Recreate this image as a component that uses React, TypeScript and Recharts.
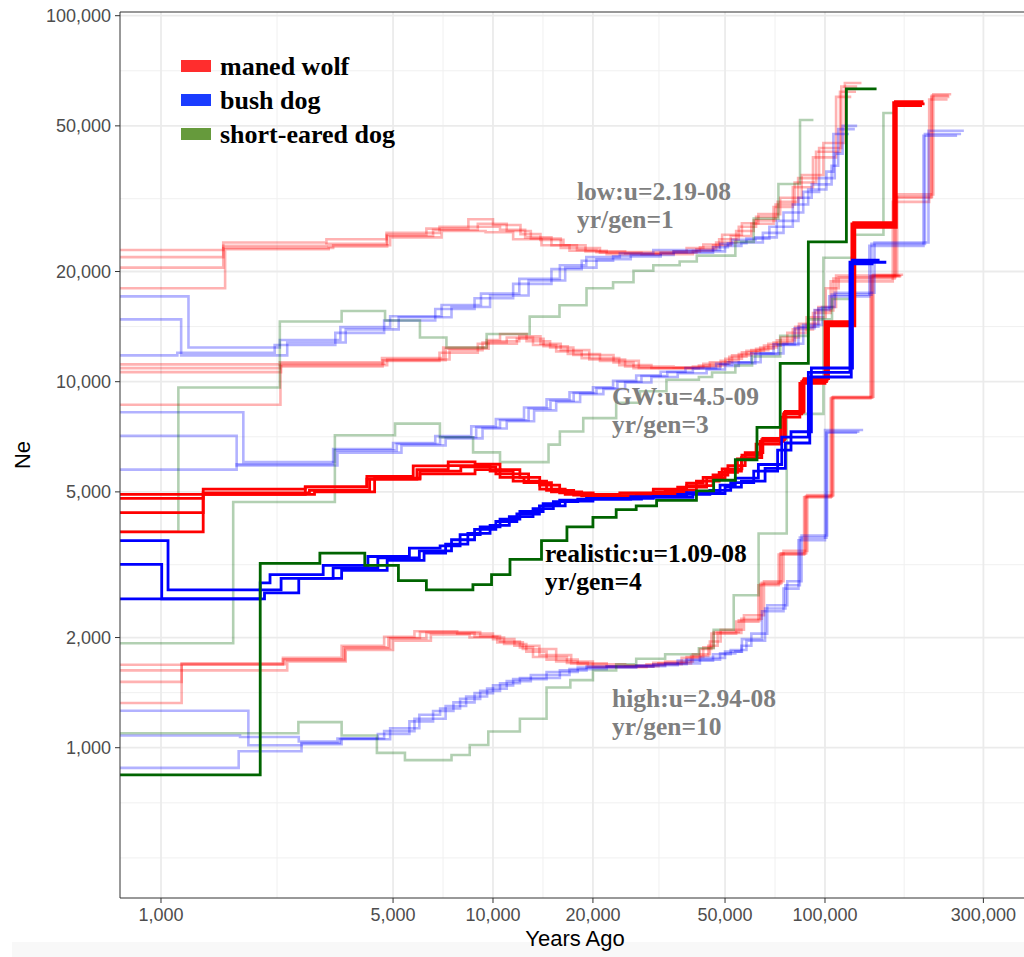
import { LineChart, Line, XAxis, YAxis, ReferenceLine } from "recharts";

type Pt = [number, number];

// [years ago, Ne] — each Ne holds from its year until the next row (PSMC step curves)

// low: u=2.19e-08, 1 yr/gen
const lowMw1: Pt[] = [[752, 22900], [1540, 23500], [3150, 23800], [4780, 25200], [6300, 26200], [8430, 27800], [10000, 26800], [12100, 25300], [13900, 24400], [16300, 23600], [17900, 22900], [20500, 22600], [30400, 22600], [38300, 23200], [43000, 23700], [49000, 25200], [56200, 27100], [63000, 28700], [73300, 31800], [85100, 36700], [98900, 44900], [114800, 65500], [128800, 65500]];
const lowMw2: Pt[] = [[752, 21900], [1540, 24000], [3150, 24500], [4780, 25500], [6900, 26500], [10500, 26000], [12500, 24800], [15000, 23600], [19000, 22700], [25000, 22400], [35000, 22700], [42000, 23300], [48000, 24500], [55000, 26500], [62000, 28200], [72000, 31000], [83000, 36000], [96000, 43500], [112000, 64000], [125000, 64000]];
const lowMw3: Pt[] = [[752, 20500], [1540, 23200], [3300, 23600], [4900, 24800], [7000, 25800], [9500, 25600], [11500, 24500], [14000, 23600], [17000, 22800], [22000, 22300], [32000, 22500], [41000, 23000], [47000, 24000], [54000, 25800], [61000, 27600], [71000, 30500], [81000, 35000], [94000, 42500], [111000, 62000], [124000, 62000]];
const lowMw4: Pt[] = [[752, 18000], [1560, 23000], [3200, 23400], [4800, 25000], [6600, 26000], [9000, 27000], [11000, 25800], [13000, 24600], [16000, 23200], [21000, 22500], [28000, 22300], [40000, 22800], [46000, 23600], [52000, 25000], [60000, 27000], [70000, 30000], [80000, 34000], [92000, 41000], [108000, 60000], [120000, 60000]];
const lowBd1: Pt[] = [[752, 17100], [1210, 12400], [2280, 13000], [3470, 14100], [4900, 15100], [7000, 16200], [9200, 17400], [12000, 19100], [15900, 20800], [19100, 21900], [24100, 22400], [30400, 22900], [48300, 23800], [52500, 24400], [61700, 24800], [71600, 27500], [83200, 31800], [91200, 34600], [104700, 38900], [109600, 49000], [123000, 49000]];
const lowBd2: Pt[] = [[752, 14800], [1150, 11800], [2400, 12800], [3600, 13900], [5200, 15000], [7500, 16000], [9800, 17200], [12800, 18900], [16500, 20500], [20500, 21600], [26000, 22200], [35000, 22700], [50000, 23500], [56000, 24000], [65000, 25500], [75000, 29000], [86000, 33000], [96000, 36000], [107000, 42000], [113000, 50000], [125000, 50000]];
const lowBd3: Pt[] = [[752, 11800], [1120, 12000], [2200, 12600], [3350, 13600], [4700, 14700], [6700, 15800], [8800, 16900], [11500, 18500], [15000, 20300], [18500, 21400], [23000, 22000], [32000, 22500], [46000, 23300], [51000, 23900], [58000, 24600], [68000, 26500], [80000, 30500], [89000, 33500], [101000, 37500], [106000, 47500], [118000, 47500]];
const lowSed: Pt[] = [[752, 3890], [1128, 9640], [2280, 14600], [3500, 15600], [4730, 14700], [6025, 13200], [7240, 12400], [9570, 13500], [12900, 15060], [15860, 16180], [19130, 18000], [23000, 18700], [26500, 20100], [30400, 20800], [36500, 21300], [41100, 22100], [53700, 24100], [61000, 27900], [72400, 34700], [84100, 51900], [92300, 51900]];

// GW: u=4.5e-09, 3 yr/gen
const gwMw1: Pt[] = [[752, 11150], [2280, 11300], [4630, 11600], [7080, 12400], [9570, 13000], [10500, 13500], [12620, 12900], [14860, 12400], [17460, 11830], [23070, 11280], [26500, 10880], [41700, 11070], [50100, 11550], [56200, 12030], [63800, 12400], [71600, 12970], [81300, 14130], [93300, 15660], [106000, 19150], [162000, 31800], [209000, 60000], [237000, 60000]];
const gwMw2: Pt[] = [[752, 10890], [2280, 11100], [4800, 11500], [7400, 12200], [9300, 12800], [11000, 13200], [13200, 12600], [15500, 12100], [18500, 11600], [24000, 11100], [30000, 10900], [43000, 11200], [51500, 11700], [58000, 12150], [65500, 12550], [73500, 13200], [83500, 14400], [95500, 16000], [108000, 19500], [165000, 32500], [212000, 61000], [240000, 61000]];
const gwMw3: Pt[] = [[752, 10620], [2300, 11200], [4700, 11400], [6900, 12000], [9000, 12700], [11800, 13100], [14200, 12500], [16800, 11900], [21000, 11400], [27500, 10900], [40000, 11000], [48500, 11400], [55000, 11900], [62000, 12300], [70000, 12800], [80000, 13900], [92000, 15400], [104000, 18800], [160000, 31000], [206000, 59000], [234000, 59000]];
const gwMw4: Pt[] = [[752, 8650], [2290, 11000], [4650, 11450], [7200, 12300], [9700, 12900], [12000, 13300], [13900, 12700], [16000, 12200], [19500, 11500], [25000, 11000], [35000, 10950], [45000, 11300], [52500, 11800], [60000, 12200], [67500, 12700], [77000, 13600], [88000, 15000], [100500, 18000], [110000, 19300], [163000, 32000], [210000, 60500], [236000, 60500]];
const gwBd1: Pt[] = [[752, 8250], [1770, 6030], [3340, 6490], [5130, 6760], [6930, 7050], [8900, 7500], [10500, 7850], [12800, 8450], [14900, 8870], [17500, 9310], [20500, 9600], [23700, 10000], [28000, 10370], [33500, 10620], [40000, 10850], [48300, 11140], [52500, 11220], [61700, 11890], [72400, 12600], [83200, 14130], [95500, 15880], [104700, 17300], [138000, 23800], [200000, 47500], [257000, 47500]];
const gwBd2: Pt[] = [[752, 7110], [1690, 5900], [3400, 6400], [5300, 6700], [7200, 7000], [9300, 7450], [11000, 7800], [13300, 8350], [15500, 8800], [18300, 9250], [21500, 9550], [25000, 9950], [30000, 10300], [36000, 10550], [44000, 10800], [50000, 11050], [55000, 11300], [64000, 11950], [75000, 12700], [86000, 14300], [98000, 16000], [107000, 17500], [141000, 24000], [205000, 48500], [262000, 48500]];
const gwBd3: Pt[] = [[752, 5750], [1690, 5950], [3300, 6550], [5000, 6800], [6700, 7100], [8600, 7550], [10200, 7900], [12400, 8500], [14500, 8950], [17000, 9350], [20000, 9650], [23000, 10050], [27000, 10400], [32000, 10650], [38000, 10900], [47000, 11200], [51000, 11300], [60000, 11950], [70000, 12650], [81000, 14000], [93000, 15700], [103000, 17100], [136000, 23500], [198000, 47000], [250000, 47000]];
const gwSed: Pt[] = [[752, 1930], [1650, 4690], [3340, 7140], [5070, 7680], [6920, 7050], [8710, 6410], [10500, 6030], [14700, 6730], [15900, 7310], [18700, 7950], [23500, 8760], [27700, 9420], [33300, 10120], [41700, 10300], [45700, 10600], [53700, 11070], [60300, 11720], [73300, 13340], [89000, 14800], [105000, 16830], [123000, 25200], [150000, 54200], [164000, 54200]];

// realistic: u=1.09e-08, 4 yr/gen
const realMw1: Pt[] = [[752, 4920], [2720, 5160], [4170, 5510], [5750, 5890], [7330, 6040], [8830, 5950], [10500, 5750], [12050, 5480], [13830, 5220], [15880, 4970], [20030, 4920], [24100, 4970], [30400, 5090], [38300, 5280], [42950, 5480], [49000, 5780], [56200, 6300], [63800, 6870], [75000, 8170], [85100, 10000], [101000, 14400], [121600, 26700], [162000, 57400], [199500, 57400]];
const realMw2: Pt[] = [[752, 4800], [1340, 4970], [2800, 5050], [4250, 5420], [6025, 5600], [8830, 5750], [10500, 5480], [12400, 5300], [13830, 5090], [16500, 4920], [20030, 4860], [30400, 5000], [38300, 5200], [46000, 5560], [51000, 5900], [57500, 6400], [65000, 7000], [76000, 8300], [86500, 10200], [102500, 14200], [123000, 26400], [164000, 56800], [196000, 56800]];
const realMw3: Pt[] = [[752, 4390], [1340, 5090], [2720, 5160], [4170, 5420], [5900, 5750], [7330, 5900], [9800, 5700], [11500, 5350], [14500, 5050], [17500, 4900], [22000, 4880], [33000, 5050], [41000, 5350], [48000, 5650], [54500, 6150], [62000, 6750], [73500, 8000], [84000, 9900], [100000, 14600], [120500, 27000], [161000, 57900], [192000, 57900]];
const realMw4: Pt[] = [[752, 3890], [1340, 4920], [2900, 5000], [4400, 5450], [6025, 5700], [8000, 5850], [10200, 5600], [12800, 5300], [15000, 5000], [18500, 4880], [27000, 4950], [36000, 5150], [44000, 5450], [50000, 5700], [56000, 6200], [64500, 6950], [75500, 8250], [86000, 10100], [101500, 14500], [122000, 27200], [163000, 58200], [198000, 58200]];
const realBd1: Pt[] = [[752, 3680], [1050, 2700], [1990, 2820], [2130, 2970], [3080, 3150], [4200, 3330], [5600, 3510], [6930, 3560], [7960, 3820], [9150, 4010], [10500, 4210], [12050, 4420], [14160, 4640], [15880, 4750], [19130, 4800], [30400, 4860], [38300, 4975], [48300, 5220], [53700, 5450], [63000, 5940], [74100, 7060], [89100, 10600], [118900, 21200], [153000, 21200]];
const realBd2: Pt[] = [[752, 3170], [1005, 2550], [1990, 2700], [2300, 2900], [3300, 3100], [4500, 3300], [6000, 3450], [7500, 3700], [8800, 3950], [10200, 4150], [11800, 4350], [13800, 4580], [16500, 4720], [20000, 4780], [28000, 4830], [40000, 4950], [50000, 5150], [56000, 5350], [66000, 5800], [76000, 6800], [90000, 10300], [120000, 21000], [140000, 21000]];
const realBd3: Pt[] = [[752, 2550], [2050, 2650], [2600, 2900], [3500, 3050], [4800, 3250], [6200, 3400], [7200, 3600], [8400, 3850], [9800, 4050], [11200, 4280], [13200, 4500], [15200, 4700], [18000, 4780], [26000, 4850], [36000, 4920], [45000, 5050], [52000, 5300], [61000, 5700], [72000, 6500], [79000, 7300], [91000, 10900], [121000, 21500], [146000, 21500]];
const realSed: Pt[] = [[752, 843], [1990, 3190], [3010, 3400], [4110, 3150], [5190, 2860], [6300, 2700], [8700, 2790], [9900, 2970], [11250, 3270], [14000, 3680], [16700, 4010], [20000, 4260], [23500, 4470], [27000, 4580], [31100, 4740], [41000, 5030], [46200, 5380], [53700, 6120], [62400, 7500], [73300, 11220], [89100, 24100], [116000, 63100], [143000, 63100]];

// high: u=2.94e-08, 10 yr/gen
const highMw1: Pt[] = [[752, 1686], [2330, 1745], [3550, 1880], [4840, 1995], [6025, 2070], [9150, 2020], [10500, 1950], [12050, 1880], [13200, 1770], [16700, 1705], [19300, 1666], [30400, 1705], [38300, 1770], [43000, 1880], [46200, 2070], [55000, 2230], [63800, 2800], [73300, 3390], [87100, 4850], [104700, 9040], [138000, 19450], [170000, 19450]];
const highMw2: Pt[] = [[752, 1627], [2400, 1720], [3600, 1850], [5000, 1960], [6500, 2040], [8500, 2000], [10800, 1920], [12600, 1830], [14500, 1740], [18000, 1690], [25000, 1680], [33000, 1720], [40000, 1800], [45000, 1950], [48500, 2100], [57000, 2300], [65500, 2850], [75000, 3450], [88500, 4900], [106000, 9100], [140000, 19600], [172000, 19600]];
const highMw3: Pt[] = [[752, 1513], [1154, 1700], [2330, 1760], [3500, 1900], [4700, 2010], [5800, 2080], [7800, 2050], [10000, 1980], [11600, 1900], [13800, 1790], [17200, 1700], [22000, 1670], [31500, 1700], [39500, 1780], [44500, 1900], [47500, 2060], [56000, 2250], [64500, 2820], [74000, 3400], [87800, 4870], [105300, 9060], [139000, 19500], [168000, 19500]];
const highMw4: Pt[] = [[752, 1325], [1154, 1690], [2360, 1735], [3580, 1870], [4900, 1990], [6300, 2060], [8800, 2010], [10300, 1940], [12300, 1860], [15500, 1720], [20000, 1660], [29000, 1690], [37000, 1760], [42000, 1860], [45500, 2050], [54000, 2210], [63000, 2780], [72500, 3370], [86500, 4830], [104000, 9000], [137000, 19400], [169000, 19400]];
const highBd1: Pt[] = [[752, 1262], [1833, 1016], [2650, 1030], [3460, 1055], [4900, 1130], [6000, 1230], [6930, 1280], [7960, 1360], [9150, 1430], [10500, 1500], [12050, 1550], [15900, 1627], [19130, 1666], [30400, 1690], [38300, 1740], [48300, 1810], [53700, 1830], [56200, 1980], [64600, 2360], [75000, 2720], [83200, 3690], [100000, 7380], [130300, 7380]];
const highBd2: Pt[] = [[752, 1080], [1730, 1070], [2600, 1040], [3400, 1060], [4700, 1110], [5800, 1200], [7200, 1300], [8300, 1380], [9600, 1450], [11000, 1520], [13000, 1580], [17000, 1640], [22000, 1670], [33000, 1700], [42000, 1760], [50000, 1830], [56000, 1900], [60000, 2050], [67000, 2450], [77000, 2850], [85000, 3800], [101500, 7300], [127000, 7300]];
const highBd3: Pt[] = [[752, 881], [1714, 978], [2650, 1023], [3500, 1060], [4500, 1090], [5600, 1180], [6600, 1260], [7600, 1330], [8800, 1410], [10000, 1480], [11500, 1540], [14500, 1610], [18000, 1655], [27000, 1680], [36000, 1730], [46000, 1800], [52000, 1850], [58000, 1960], [66000, 2400], [76000, 2780], [84000, 3750], [101000, 7250], [125000, 7250]];
const highSed: Pt[] = [[752, 1095], [2593, 1175], [3500, 1080], [4470, 968], [5430, 925], [7500, 955], [8510, 1017], [9680, 1107], [12050, 1200], [14500, 1460], [17100, 1530], [20000, 1625], [23500, 1690], [27000, 1750], [33000, 1800], [41700, 1870], [46200, 2100], [53100, 2610], [63100, 3850], [76700, 8170], [98900, 21800], [123000, 21800]];

const X_TICKS = [1000, 5000, 10000, 20000, 50000, 100000, 300000];
const X_MINOR = [2236, 7071, 14142, 31623, 70711, 173205];
const Y_TICKS = [1000, 2000, 5000, 10000, 20000, 50000, 100000];
const Y_MINOR = [500, 707, 1414, 3162, 7071, 14142, 31623, 70711];

const X_DOMAIN: [number, number] = [752.5, 414500];
const Y_DOMAIN: [number, number] = [388.5, 102350];

const RED = "#FF0000";
const BLUE = "#0000FF";
const GREEN = "#006400";
const FADE = 0.3;

const LEGEND = [
  { label: "maned wolf", color: "#FF2D2D" },
  { label: "bush dog", color: "#1A3CFF" },
  { label: "short-eared dog", color: "#669A3C" },
];

const NOTES = [
  { lines: ["low:u=2.19-08", "yr/gen=1"], x: 577, y: 200, color: "#7F7F7F" },
  { lines: ["GW:u=4.5-09", "yr/gen=3"], x: 612, y: 405, color: "#7F7F7F" },
  { lines: ["realistic:u=1.09-08", "yr/gen=4"], x: 545, y: 562, color: "#000000" },
  { lines: ["high:u=2.94-08", "yr/gen=10"], x: 612, y: 707, color: "#7F7F7F" },
];

const faded = [
  ...[lowMw1, lowMw2, lowMw3, lowMw4, gwMw1, gwMw2, gwMw3, gwMw4, highMw1, highMw2, highMw3, highMw4].map((d) => ({ d, c: RED })),
  ...[lowBd1, lowBd2, lowBd3, gwBd1, gwBd2, gwBd3, highBd1, highBd2, highBd3].map((d) => ({ d, c: BLUE })),
  ...[lowSed, gwSed, highSed].map((d) => ({ d, c: GREEN })),
];
const bold = [
  ...[realMw1, realMw2, realMw3, realMw4].map((d) => ({ d, c: RED })),
  ...[realBd1, realBd2, realBd3].map((d) => ({ d, c: BLUE })),
  { d: realSed, c: GREEN },
];

const rows = (pts: Pt[]) => pts.map(([x, y]) => ({ x, y }));
const fmt = (v: number) => v.toLocaleString("en-US");

const SERIF = "'Liberation Serif', 'Times New Roman', serif";
const SANS = "'Liberation Sans', Arial, Helvetica, sans-serif";

export default function App() {
  return (
    <div style={{ position: "fixed", left: 0, top: 0, width: 1024, height: 957, overflow: "hidden", background: "#fff" }}>
      <div style={{ position: "absolute", left: 12, top: 942, width: 1012, height: 15, background: "#F8F8F8" }} />
      <div style={{ position: "absolute", left: 0, top: 0 }}>
        <LineChart width={1040} height={957} margin={{ top: 12, right: 10, bottom: 0, left: 0 }}>
          <XAxis
            type="number"
            dataKey="x"
            scale="log"
            domain={X_DOMAIN}
            allowDataOverflow
            ticks={X_TICKS}
            tickFormatter={fmt}
            height={59}
            tickSize={5}
            tickMargin={5}
            stroke="#333333"
            tick={{ fill: "#4D4D4D", fontSize: 18, fontFamily: SANS }}
          />
          <YAxis
            type="number"
            scale="log"
            domain={Y_DOMAIN}
            allowDataOverflow
            ticks={Y_TICKS}
            tickFormatter={fmt}
            width={120}
            tickSize={5}
            tickMargin={4}
            stroke="#333333"
            tick={{ fill: "#4D4D4D", fontSize: 18, fontFamily: SANS }}
          />
          {X_MINOR.map((v) => (
            <ReferenceLine key={"xm" + v} x={v} stroke="#F0F0F0" strokeWidth={1} />
          ))}
          {Y_MINOR.map((v) => (
            <ReferenceLine key={"ym" + v} y={v} stroke="#F0F0F0" strokeWidth={1} />
          ))}
          {X_TICKS.map((v) => (
            <ReferenceLine key={"xM" + v} x={v} stroke="#EBEBEB" strokeWidth={1.8} />
          ))}
          {Y_TICKS.map((v) => (
            <ReferenceLine key={"yM" + v} y={v} stroke="#EBEBEB" strokeWidth={1.8} />
          ))}
          <ReferenceLine y={Y_DOMAIN[1]} stroke="#333333" strokeWidth={1.2} />
          {faded.map((s, i) => (
            <Line
              key={"f" + i}
              data={rows(s.d)}
              dataKey="y"
              type="stepAfter"
              stroke={s.c}
              strokeOpacity={FADE}
              strokeWidth={2.6}
              dot={false}
              activeDot={false}
              isAnimationActive={false}
            />
          ))}
          {bold.map((s, i) => (
            <Line
              key={"b" + i}
              data={rows(s.d)}
              dataKey="y"
              type="stepAfter"
              stroke={s.c}
              strokeWidth={2.8}
              dot={false}
              activeDot={false}
              isAnimationActive={false}
            />
          ))}
        </LineChart>
      </div>
      <svg width={1024} height={957} style={{ position: "absolute", left: 0, top: 0, pointerEvents: "none" }}>
        {LEGEND.map((l, i) => (
          <g key={l.label}>
            <rect x={181} y={60 + i * 34} width={30} height={12} fill={l.color} />
            <text x={220} y={75 + i * 34} fontFamily={SERIF} fontWeight="bold" fontSize={26} fill="#000">
              {l.label}
            </text>
          </g>
        ))}
        {NOTES.map((n) =>
          n.lines.map((t, j) => (
            <text key={t} x={n.x} y={n.y + j * 28} fontFamily={SERIF} fontWeight="bold" fontSize={25.5} fill={n.color}>
              {t}
            </text>
          ))
        )}
        <text x={575} y={946} textAnchor="middle" fontFamily={SANS} fontSize={22} fill="#000">
          Years Ago
        </text>
        <text x={30} y={455} textAnchor="middle" fontFamily={SANS} fontSize={22} fill="#000" transform="rotate(-90 30 455)">
          Ne
        </text>
      </svg>
    </div>
  );
}
